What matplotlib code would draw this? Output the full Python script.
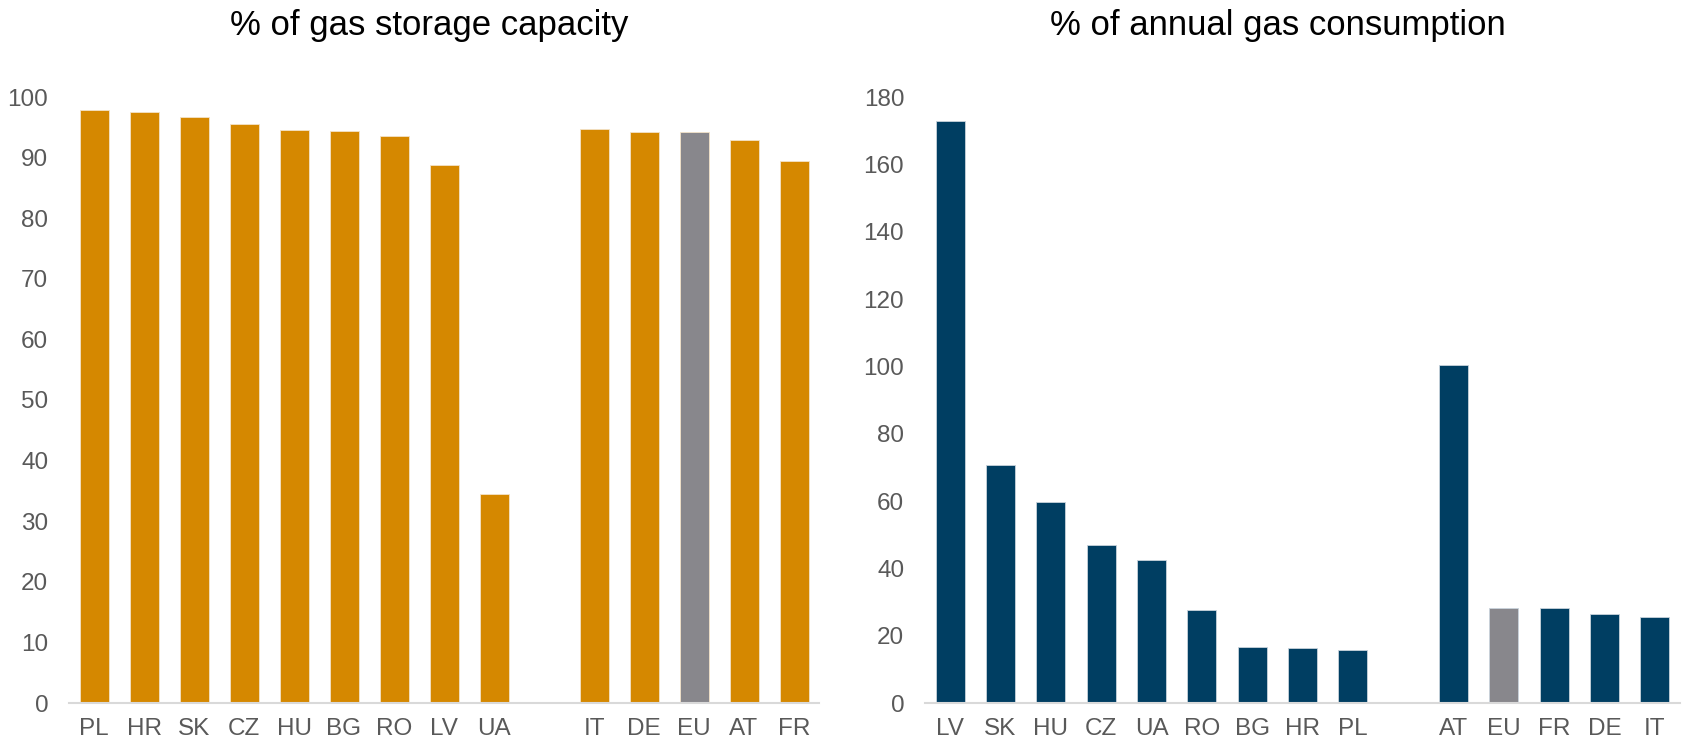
import numpy as np
import matplotlib.pyplot as plt

plt.rcParams['font.family'] = ['Liberation Sans', 'DejaVu Sans']

# 貯蔵容量に対する割合
cap_labels = ['PL', 'HR', 'SK', 'CZ', 'HU', 'BG', 'RO', 'LV', 'UA',
              '', 'IT', 'DE', 'EU', 'AT', 'FR']
cap_values = [97.8, 97.6, 96.7, 95.5, 94.5, 94.4, 93.5, 88.7, 34.5,
              np.nan, 94.8, 94.3, 94.2, 92.9, 89.4]

# 年間消費量に対する割合
cons_labels = ['LV', 'SK', 'HU', 'CZ', 'UA', 'RO', 'BG', 'HR', 'PL',
               '', 'AT', 'EU', 'FR', 'DE', 'IT']
cons_values = [173.0, 70.8, 59.7, 46.9, 42.5, 27.7, 16.7, 16.4, 15.7,
               np.nan, 100.4, 28.2, 28.2, 26.3, 25.4]

ORANGE = '#D58800'
NAVY = '#003E62'
GREY = '#88878C'
TXT = '#595959'

W, H = 1692, 743
fig = plt.figure(figsize=(W / 100, H / 100), dpi=100)

def make_ax(x0, x1, labels, values, color, ymax, step):
    ax = fig.add_axes([x0 / W, (H - 703) / H, (x1 - x0) / W, (703 - 97) / H])
    x = np.arange(len(labels))
    cols = [GREY if c == 'EU' else color for c in labels]
    ax.bar(x, values, width=0.58, color=cols, edgecolor='#F3E3C8' if color == ORANGE else '#C9D3DC',
           linewidth=0.6)
    ax.set_xlim(-0.5, len(labels) - 0.5)
    ax.set_ylim(0, ymax)
    ax.set_yticks(np.arange(0, ymax + 1, step))
    ax.set_xticks(x)
    ax.set_xticklabels(labels)
    for s in ['top', 'right', 'left']:
        ax.spines[s].set_visible(False)
    ax.spines['bottom'].set_color('#D9D9D9')
    ax.spines['bottom'].set_linewidth(1.5)
    ax.tick_params(axis='both', length=0, labelsize=17.5, labelcolor=TXT)
    ax.tick_params(axis='x', pad=11)
    ax.tick_params(axis='y', pad=15)
    return ax

make_ax(69, 819, cap_labels, cap_values, ORANGE, 100, 10)
make_ax(925, 1680, cons_labels, cons_values, NAVY, 180, 20)

fig.text(429 / W, 1 - 35 / H, '% of gas storage capacity', ha='center', va='baseline',
         fontsize=25, color='black')
fig.text(1278 / W, 1 - 35 / H, '% of annual gas consumption', ha='center', va='baseline',
         fontsize=25, color='black')

fig.savefig('out.png', dpi=100)
